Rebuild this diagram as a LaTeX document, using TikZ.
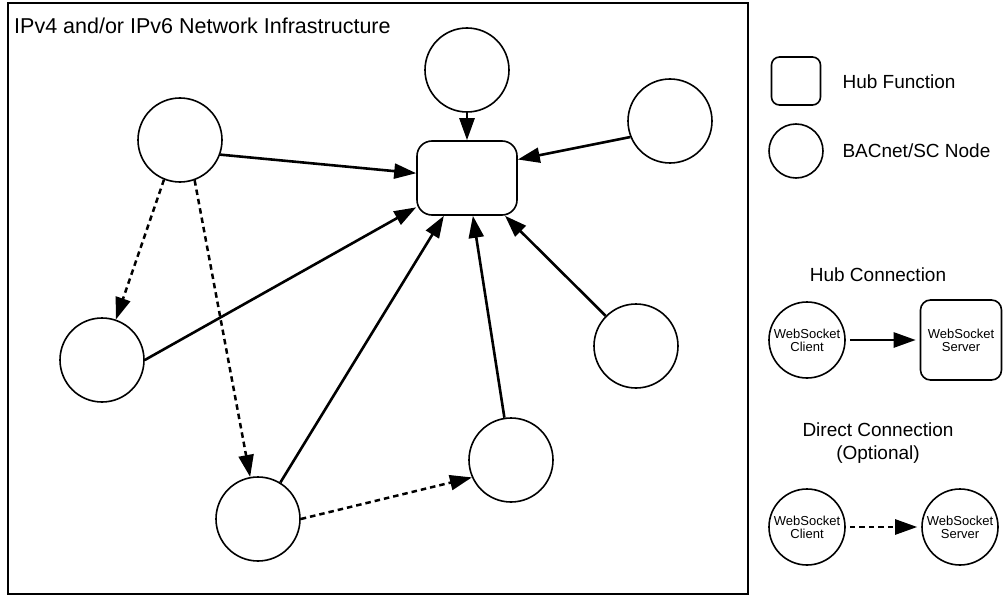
\documentclass[tikz,border=0pt]{standalone}
\usepackage{fontspec}
\setmainfont{Liberation Sans}
\usetikzlibrary{arrows.meta}

\begin{document}
\begin{tikzpicture}[x=1pt,y=-1pt,>={Triangle[length=22pt,width=15pt]},
    legendtext/.style={font=\fontsize{19}{23}\selectfont},
    socktext/.style={font=\fontsize{13}{13}\selectfont,align=center}]

      \useasboundingbox (0,0) rectangle (1003,596);
      \draw[line width=1.5pt] (8,3) rectangle (748,594);
      \node[anchor=base west,inner sep=0pt,font=\fontsize{21.5}{26}\selectfont] (title) at (14,34) {IPv4 and/or IPv6 Network Infrastructure};

      \begin{scope}[every node/.style={circle,draw,line width=1.6pt,minimum size=84pt,inner sep=0pt}]
        \node (1) at (467,70)  {};
        \node (2) at (670,121) {};
        \node (3) at (180,140) {};
        \node (4) at (102,360) {};
        \node (5) at (636,346) {};
        \node (6) at (511,460) {};
        \node (7) at (258,519) {};
      \end{scope}
      \node[draw,rounded corners=15pt,line width=1.6pt,minimum width=100pt,minimum height=74pt] (0) at (467,178) {};

      \begin{scope}[every edge/.style={draw,line width=2.6pt,->}]
        \path (1)      edge (0);
        \path (2.202)  edge (0.20);
        \path (3.-20)  edge (0);
        \path (4.east) edge (0.210);
        \path (5)      edge (0);
        \path (6)      edge (0);
        \path (7)      edge (0);
      \end{scope}

      \begin{scope}[every edge/.style={draw,line width=2.5pt,dash pattern=on 5.5pt off 4pt,->}]
        \path (3.-112) edge (4);
        \path (3.-70)  edge (7);
        \path (7.east) edge (6.204);
      \end{scope}

      % legend
      \node[draw,rounded corners=8pt,line width=1.6pt,minimum width=49pt,minimum height=48pt] (hf) at (796,81) {};
      \node[draw,circle,line width=1.6pt,minimum size=54pt,inner sep=0pt] (bn) at (796,151) {};
      \node[legendtext,anchor=west] (hftext) at (839,82)  {Hub Function};
      \node[legendtext,anchor=west] (bntext) at (839,151) {BACnet/SC Node};

      \node[legendtext] (hc) at (878,275) {Hub Connection};
      \node[draw,circle,line width=1.6pt,minimum size=76pt,inner sep=0pt,socktext] (c1) at (807,340) {WebSocket\\Client};
      \node[draw,rounded corners=10pt,line width=1.6pt,minimum width=81pt,minimum height=80pt,socktext] (s1) at (961,340) {WebSocket\\Server};

      \node[legendtext,align=center] (dc) at (878,443) {Direct Connection\\(Optional)};
      \node[draw,circle,line width=1.6pt,minimum size=76pt,inner sep=0pt,socktext] (c2) at (807,527) {WebSocket\\Client};
      \node[draw,circle,line width=1.6pt,minimum size=76pt,inner sep=0pt,socktext] (s2) at (960,527) {WebSocket\\Server};

      \path (c1) edge[draw,line width=2.6pt,->,shorten <=4pt,shorten >=4pt] (s1);
      \path (c2) edge[draw,line width=2.5pt,dash pattern=on 5.5pt off 4pt,->,shorten <=4pt,shorten >=4pt] (s2);

    \end{tikzpicture}
\end{document}
